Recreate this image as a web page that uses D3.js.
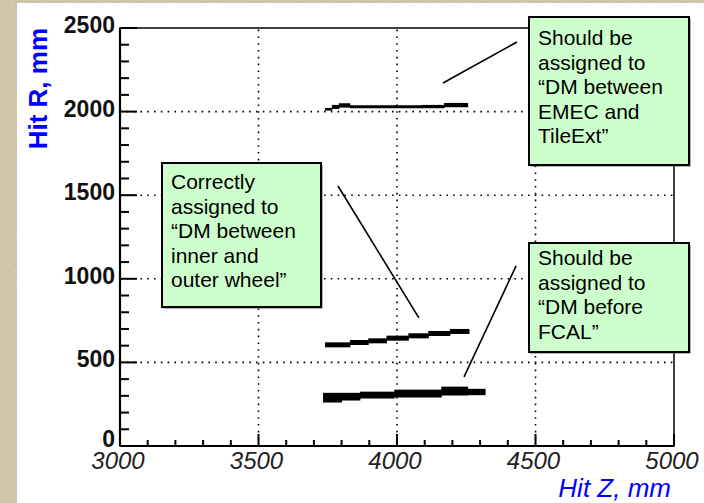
<!DOCTYPE html>
<html>
<head>
<meta charset="utf-8">
<script src="https://cdn.jsdelivr.net/npm/d3@7"></script>
<style>
  body { margin: 0; background: #d6cbb0; }
  svg { display: block; }
</style>
</head>
<body>
<div id="chart"></div>
<script>
// axis ticks
const zTicks = [3000, 3500, 4000, 4500, 5000];
const rTicks = [0, 500, 1000, 1500, 2000, 2500];

// hit bands, bin edges in Z and R range per bin (mm)
const topZ = [3740, 3765, 3790, 3830, 4090, 4170, 4255];
const topRlo = [2006, 2016, 2024, 2020, 2020, 2026];
const topRhi = [2022, 2040, 2050, 2038, 2040, 2052];

const midZ = [3740, 3830, 3896, 3962, 4041, 4113, 4191, 4260];
const midRlo = [590, 604, 614, 630, 644, 658, 670];
const midRhi = [620, 634, 644, 660, 674, 688, 700];

const lowZ = [3733, 3800, 3866, 3990, 4160, 4255, 4318];
const lowRlo = [260, 272, 284, 290, 302, 304];
const lowRhi = [318, 318, 325, 337, 355, 342];

// annotation texts
const noteTop = ['Should be', 'assigned to', '\u201cDM between', 'EMEC and', 'TileExt\u201d'];
const noteMid = ['Correctly', 'assigned to', '\u201cDM between', 'inner and', 'outer wheel\u201d'];
const noteLow = ['Should be', 'assigned to', '\u201cDM before', 'FCAL\u201d'];

// pointer lines: z1, r1, z2, r2
const pointers = [
  [4166, 2171, 4433, 2416],
  [3787, 1555, 4079, 766],
  [4430, 1077, 4242, 413]
];

const width = 704, height = 503;
const svg = d3.select('#chart').append('svg')
  .attr('width', width).attr('height', height);

// paper background
const defs = svg.append('defs');
const f = defs.append('filter').attr('id', 'paper')
  .attr('x', 0).attr('y', 0).attr('width', '100%').attr('height', '100%');
f.append('feTurbulence').attr('type', 'fractalNoise')
  .attr('baseFrequency', '0.9 0.25').attr('numOctaves', 2).attr('seed', 3);
f.append('feColorMatrix').attr('type', 'matrix')
  .attr('values', '0 0 0 0 0.52  0 0 0 0 0.45  0 0 0 0 0.33  0 0 0 0.55 0');
svg.append('rect').attr('width', width).attr('height', height).attr('fill', '#d8cdb2');
svg.append('rect').attr('width', width).attr('height', height).attr('filter', 'url(#paper)');

// white panel
svg.append('rect').attr('x', 17).attr('y', 3)
  .attr('width', width - 17).attr('height', height - 3).attr('fill', '#fff');

const x = d3.scaleLinear().domain([3000, 5000]).range([120, 674]);
const y = d3.scaleLinear().domain([0, 2500]).range([446, 28]);

const g = svg.append('g');

// dotted grid
g.selectAll('line.gx').data(zTicks.slice(1, -1)).enter().append('line')
  .attr('class', 'gx')
  .attr('x1', d => x(d)).attr('x2', d => x(d))
  .attr('y1', y(0)).attr('y2', y(2500))
  .attr('stroke', '#000').attr('stroke-width', 1.6)
  .attr('stroke-dasharray', '1.6,5.2');
g.selectAll('line.gy').data(rTicks.slice(1, -1)).enter().append('line')
  .attr('class', 'gy')
  .attr('y1', d => y(d)).attr('y2', d => y(d))
  .attr('x1', x(3000)).attr('x2', x(5000))
  .attr('stroke', '#000').attr('stroke-width', 1.6)
  .attr('stroke-dasharray', '1.6,5.2');

// bands
function band(edges, lo, hi) {
  const bins = lo.map((v, i) => ({ z0: edges[i], z1: edges[i + 1], r0: v, r1: hi[i] }));
  g.append('g').selectAll('rect').data(bins).enter().append('rect')
    .attr('x', d => x(d.z0))
    .attr('width', d => x(d.z1) - x(d.z0) + 0.5)
    .attr('y', d => y(d.r1))
    .attr('height', d => y(d.r0) - y(d.r1))
    .attr('fill', '#000');
}
band(topZ, topRlo, topRhi);
band(midZ, midRlo, midRhi);
band(lowZ, lowRlo, lowRhi);

// frame
g.append('rect')
  .attr('x', x(3000)).attr('y', y(2500))
  .attr('width', x(5000) - x(3000)).attr('height', y(0) - y(2500))
  .attr('fill', 'none').attr('stroke', '#000').attr('stroke-width', 1.5);
g.append('line').attr('x1', x(3000)).attr('x2', x(5000))
  .attr('y1', y(0)).attr('y2', y(0)).attr('stroke', '#000').attr('stroke-width', 2.2);
g.append('line').attr('x1', x(3000)).attr('x2', x(3000))
  .attr('y1', y(0)).attr('y2', y(2500)).attr('stroke', '#000').attr('stroke-width', 2.2);

// ticks (minor every 100 mm)
const zMinor = d3.range(3000, 5001, 100);
const rMinor = d3.range(0, 2501, 100);
g.selectAll('line.tx').data(zMinor).enter().append('line')
  .attr('class', 'tx')
  .attr('x1', d => x(d)).attr('x2', d => x(d))
  .attr('y1', y(0)).attr('y2', d => y(0) - (d % 500 === 0 ? 12 : 6))
  .attr('stroke', '#000').attr('stroke-width', 2);
g.selectAll('line.ty').data(rMinor).enter().append('line')
  .attr('class', 'ty')
  .attr('y1', d => y(d)).attr('y2', d => y(d))
  .attr('x1', x(3000)).attr('x2', d => x(3000) + (d % 500 === 0 ? 17 : 9))
  .attr('stroke', '#000').attr('stroke-width', 2);

// tick labels
g.selectAll('text.lx').data(zTicks).enter().append('text')
  .attr('class', 'lx')
  .attr('x', d => x(d) - 2).attr('y', y(0) + 23)
  .attr('text-anchor', 'middle')
  .attr('font-family', 'Liberation Sans, Arial, sans-serif')
  .attr('font-style', 'italic').attr('font-size', 24)
  .attr('fill', '#222')
  .text(d => d);
g.selectAll('text.ly').data(rTicks).enter().append('text')
  .attr('class', 'ly')
  .attr('x', 115).attr('y', d => y(d) + (d === 0 ? 1 : 5))
  .attr('text-anchor', 'end')
  .attr('font-family', 'Liberation Sans, Arial, sans-serif')
  .attr('font-weight', 'bold').attr('font-size', 23)
  .attr('fill', '#111')
  .text(d => d);

// axis titles
svg.append('text')
  .attr('transform', `translate(47, ${y(2500)}) rotate(-90)`)
  .attr('text-anchor', 'end')
  .attr('font-family', 'Liberation Sans, Arial, sans-serif')
  .attr('font-weight', 'bold').attr('font-size', 26)
  .attr('fill', '#0000ff')
  .text('Hit R, mm');
svg.append('text')
  .attr('x', 671).attr('y', 497)
  .attr('text-anchor', 'end')
  .attr('font-family', 'Liberation Sans, Arial, sans-serif')
  .attr('font-style', 'italic').attr('font-size', 26)
  .attr('fill', '#0000ff')
  .text('Hit Z, mm');

// pointer lines
g.selectAll('line.ptr').data(pointers).enter().append('line')
  .attr('class', 'ptr')
  .attr('x1', d => x(d[0])).attr('y1', d => y(d[1]))
  .attr('x2', d => x(d[2])).attr('y2', d => y(d[3]))
  .attr('stroke', '#000').attr('stroke-width', 1.6);

// note boxes
function note(bx, by, bw, bh, lines, tx, ty) {
  const n = svg.append('g');
  n.append('rect').attr('x', bx + 1.5).attr('y', by + 1.5)
    .attr('width', bw).attr('height', bh).attr('fill', '#666');
  n.append('rect').attr('x', bx).attr('y', by)
    .attr('width', bw).attr('height', bh)
    .attr('fill', '#ccffcc').attr('stroke', '#000').attr('stroke-width', 2);
  n.selectAll('text').data(lines).enter().append('text')
    .attr('x', tx).attr('y', (d, i) => ty + i * 24.6)
    .attr('font-family', 'Liberation Sans, Arial, sans-serif')
    .attr('font-size', 21)
    .attr('fill', '#000')
    .text(d => d);
}
note(529, 17, 160, 148, noteTop, 538, 45);
note(162, 163, 159, 144, noteMid, 171, 189);
note(529, 243, 160, 109, noteLow, 538, 265);
</script>
</body>
</html>
